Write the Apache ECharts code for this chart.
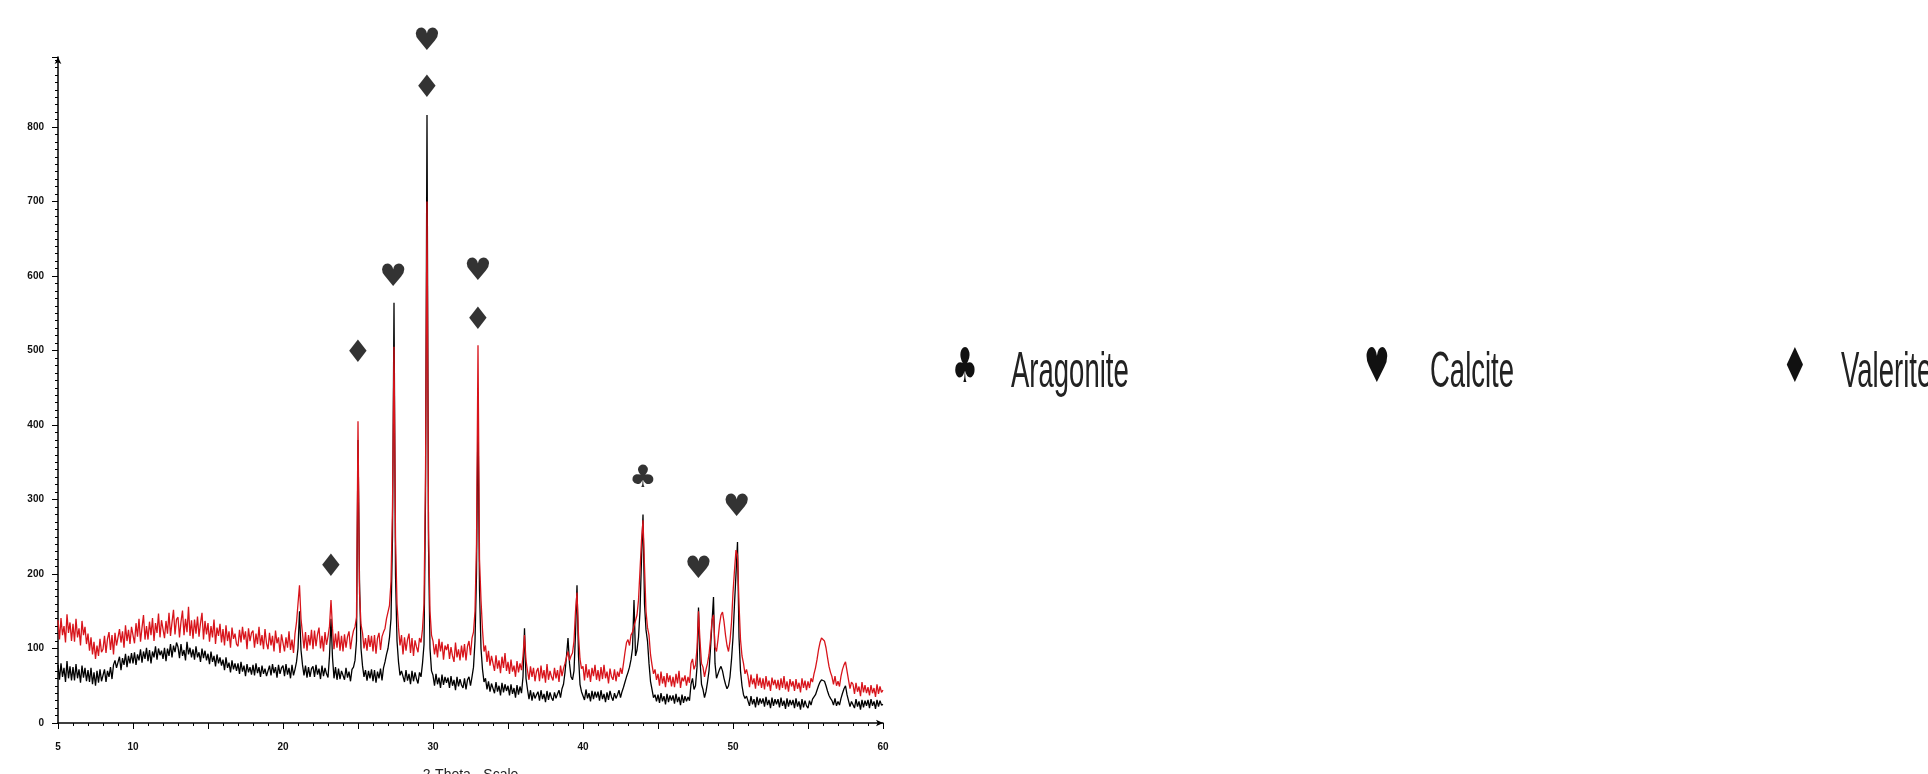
<!DOCTYPE html>
<html lang="en">
<head>
<meta charset="UTF-8">
<title>XRD 2-Theta</title>
<script src="https://cdn.jsdelivr.net/npm/echarts@6/dist/echarts.min.js"></script>
<style>
    html, body { margin: 0; padding: 0; background: #fff; }
    #chart { width: 1928px; height: 774px; }
</style>
</head>
<body>
<div id="chart"></div>
<script>
// scan settings (2-Theta, degrees)
var thetaStart = 5;
var thetaStep = 0.1;

// red scan, one row per degree (x.0 .. x.9)
var redCounts = [
    138,112,141,118,130,108,146,121,135,110,
    133,109,140,115,127,104,137,118,129,106,
    120,97,115,92,109,86,104,90,113,95,
    99,117,94,113,122,98,118,92,121,104,
    104,126,108,123,101,131,110,125,106,129,
    131,107,134,116,140,109,128,145,112,130,
    112,136,118,141,110,134,121,147,115,138,
    140,114,137,120,148,117,135,152,119,139,
    142,115,136,151,118,140,122,156,117,138,
    113,139,120,143,116,134,148,112,137,119,
    134,109,130,115,139,106,128,117,133,108,
    126,104,131,110,123,101,128,113,120,106,
    103,125,108,129,112,123,99,127,110,121,
    124,101,120,106,129,104,118,99,126,107,
    99,121,104,117,96,124,107,115,94,119,
    118,96,115,101,123,98,112,94,120,135,
    160,185,140,120,100,122,97,118,104,125,
    99,124,103,119,128,100,117,96,122,105,
    116,130,165,127,99,120,101,123,97,117,
    96,119,101,116,123,99,114,124,129,142,
    405,175,132,121,100,114,97,118,102,117,
    96,118,93,114,121,98,116,122,127,140,
    140,158,190,290,505,250,160,128,104,118,
    92,115,97,112,120,94,114,90,111,102,
    95,114,108,126,160,330,700,260,150,118,
    110,92,106,88,113,96,109,85,104,98,
    106,86,102,90,82,108,88,99,84,104,
    88,106,84,103,110,91,114,122,150,240,
    507,220,165,125,96,104,82,97,77,90,
    88,70,91,73,84,67,89,74,94,70,
    82,66,85,69,77,62,83,68,80,71,
    90,118,84,70,58,76,62,74,56,69,
    74,56,77,60,71,54,79,58,70,62,
    57,74,60,71,55,77,63,73,80,88,
    96,84,90,94,110,150,175,118,86,73,
    76,57,79,61,72,55,74,63,78,58,
    71,56,75,59,78,60,69,53,73,62,
    58,72,56,69,62,74,66,80,95,108,
    112,104,118,122,130,128,145,165,205,245,
    272,210,150,128,118,92,78,66,72,58,
    66,50,69,53,63,48,67,55,64,49,
    62,48,66,53,70,47,61,56,64,50,
    62,54,80,86,72,78,100,150,110,80,
    75,62,72,80,92,112,138,145,102,96,
    112,132,145,149,136,118,104,96,110,135,
    175,205,232,225,160,112,90,80,66,72,
    63,48,65,52,60,46,66,50,61,47,
    60,45,63,49,57,43,61,51,58,46,
    58,44,60,47,63,45,56,42,59,49,
    56,43,59,46,54,41,60,47,57,44,
    56,47,60,55,66,74,85,98,108,114,
    116,110,101,88,76,68,62,52,63,50,
    56,49,63,72,78,82,70,58,46,55,
    52,39,54,42,49,36,55,41,51,40,
    48,37,51,40,47,35,52,39,49,41,
    44
];

// black scan
var blackCounts = [
    78,58,80,62,74,55,83,60,76,57,
    75,57,79,60,72,54,77,61,74,56,
    71,55,74,52,68,50,70,54,72,56,
    58,72,55,70,62,75,59,78,84,74,
    74,89,71,87,78,93,75,90,80,94,
    80,95,78,92,84,99,81,96,86,101,
    83,98,80,96,88,103,85,100,91,97,
    86,101,83,100,90,106,88,104,95,108,
    102,87,106,90,98,84,109,92,101,88,
    99,85,103,88,95,82,100,87,97,84,
    93,79,96,82,90,76,92,80,88,77,
    85,71,88,74,81,68,84,72,80,70,
    80,66,82,69,77,63,79,68,75,65,
    78,64,80,67,75,62,77,66,73,63,
    62,77,64,79,67,75,61,78,66,74,
    77,63,79,65,74,60,78,64,72,82,
    100,150,98,78,64,77,61,75,62,73,
    76,62,78,65,73,59,77,63,74,66,
    61,90,140,88,60,75,58,73,59,70,
    72,58,74,61,69,56,72,75,84,110,
    380,190,100,77,62,71,57,70,60,72,
    56,71,54,69,60,73,57,74,82,92,
    100,115,140,250,564,200,110,82,64,70,
    69,55,71,57,66,52,70,56,68,59,
    53,68,62,80,105,300,816,240,100,70,
    64,50,66,52,61,47,65,51,62,54,
    61,47,63,50,58,44,62,49,59,51,
    47,60,45,58,62,50,62,75,110,200,
    420,180,100,72,55,60,45,56,42,53,
    53,40,55,42,50,37,54,41,52,43,
    50,37,52,39,47,34,51,38,49,40,
    62,127,60,45,32,44,30,41,33,38,
    42,30,44,32,39,28,43,31,41,34,
    30,41,33,39,44,34,46,52,68,90,
    114,80,62,58,70,120,185,90,52,42,
    44,31,45,33,40,29,43,32,42,34,
    42,30,44,32,39,28,41,31,43,35,
    30,40,33,38,44,34,42,48,55,62,
    68,75,85,100,165,90,98,115,150,220,
    280,160,125,110,80,56,45,34,38,29,
    38,27,40,29,36,25,39,28,37,30,
    37,26,39,28,35,24,38,27,36,29,
    35,30,52,60,45,50,75,155,85,52,
    45,34,42,55,70,100,135,169,80,60,
    62,72,76,70,60,52,46,50,62,85,
    115,160,200,243,115,70,50,38,33,36,
    34,23,36,25,32,21,35,24,33,26,
    33,22,35,24,31,20,34,23,32,25,
    32,21,34,23,30,19,33,22,31,24,
    31,20,33,22,29,18,32,21,30,23,
    20,30,24,32,33,38,44,50,55,58,
    60,56,50,43,37,33,30,24,33,23,
    29,24,33,40,46,50,38,30,22,29,
    31,20,32,22,29,18,31,21,30,23,
    31,20,32,23,29,19,31,22,30,24,
    25
];

// phase markers above the peaks
var markerTheta = [23.2, 25.0, 27.35, 29.6, 29.6, 33.0, 33.0, 44.0, 47.7, 50.25];
var markerCounts = [208, 495, 597, 914, 851, 605, 540, 327, 205, 288];
var markerPhase = ['♦', '♦', '♥', '♥', '♦', '♥', '♦', '♣', '♥', '♥'];

// key on the right
var keyNames = ['Aragonite', 'Calcite', 'Valerite'];
var keySymbols = ['♣', '♥', '♦'];

var myChart = echarts.init(document.getElementById('chart'));

function toPairs(arr) {
    return arr.map(function (v, i) {
        return [+(thetaStart + i * thetaStep).toFixed(2), v];
    });
}

var keySymbolX = [965, 1377, 1795];
var keyTextX = [1011, 1430, 1841];
var keyGraphics = [];
keyNames.forEach(function (name, i) {
    keyGraphics.push({
        type: 'text', x: keySymbolX[i], y: 370, scaleX: 0.6,
        style: {
            text: keySymbols[i], fontSize: 48, fontFamily: 'DejaVu Sans', fill: '#111',
            align: 'center', verticalAlign: 'middle', textAlign: 'center', textVerticalAlign: 'middle'
        }
    });
    keyGraphics.push({
        type: 'text', x: keyTextX[i], y: 373, scaleX: 0.55,
        style: {
            text: name, fontSize: 50, fontFamily: 'Liberation Sans', fill: '#222',
            align: 'left', verticalAlign: 'middle', textAlign: 'left', textVerticalAlign: 'middle'
        }
    });
});

var option = {
    animation: false,
    backgroundColor: '#fff',
    grid: { left: 58, right: 1045, top: 57, bottom: 51, containLabel: false, outerBoundsMode: 'none' },
    xAxis: {
        type: 'value',
        min: 5, max: 60, interval: 5,
        name: '2-Theta - Scale',
        nameLocation: 'middle',
        nameGap: 45,
        nameTextStyle: { fontSize: 14, color: '#222', fontFamily: 'Liberation Sans' },
        axisLine: { show: true, onZero: false, symbol: ['none', 'arrow'], symbolSize: [5, 7], lineStyle: { color: '#000', width: 1.5 } },
        axisTick: { show: true, length: 6, lineStyle: { color: '#000' } },
        minorTick: { show: true, splitNumber: 5, length: 3, lineStyle: { color: '#000' } },
        axisLabel: {
            margin: 19, fontSize: 10, fontWeight: 'bold', color: '#111', fontFamily: 'Liberation Sans',
            formatter: function (v) { return (v % 10 === 0 || v === 5) ? String(v) : ''; }
        },
        splitLine: { show: false },
        minorSplitLine: { show: false }
    },
    yAxis: {
        type: 'value',
        min: 0, max: 894, interval: 100,
        axisLine: { show: true, symbol: ['none', 'arrow'], symbolSize: [5, 7], lineStyle: { color: '#000', width: 1.5 } },
        axisTick: { show: true, length: 6, lineStyle: { color: '#000' } },
        minorTick: { show: true, splitNumber: 10, length: 3, lineStyle: { color: '#000' } },
        axisLabel: {
            margin: 14, fontSize: 10, fontWeight: 'bold', color: '#111', fontFamily: 'Liberation Sans',
            formatter: function (v) { return v % 100 === 0 ? String(v) : ''; }
        },
        splitLine: { show: false },
        minorSplitLine: { show: false }
    },
    graphic: keyGraphics,
    series: [
        {
            name: 'black',
            type: 'line',
            data: toPairs(blackCounts),
            showSymbol: false,
            lineStyle: { color: '#000', width: 1.3 },
            z: 2
        },
        {
            name: 'red',
            type: 'line',
            data: toPairs(redCounts),
            showSymbol: false,
            lineStyle: { color: '#d8141b', width: 1.3 },
            z: 3
        },
        {
            name: 'phases',
            type: 'scatter',
            data: markerTheta.map(function (t, i) { return [t, markerCounts[i], markerPhase[i]]; }),
            symbolSize: 1,
            itemStyle: { color: 'rgba(0,0,0,0)' },
            clip: false,
            silent: true,
            z: 5,
            label: {
                show: true, position: 'inside', fontSize: 31, color: '#000', fontFamily: 'DejaVu Sans',
                formatter: function (p) { return p.value[2]; }
            }
        }
    ]
};

myChart.setOption(option);
</script>
</body>
</html>
